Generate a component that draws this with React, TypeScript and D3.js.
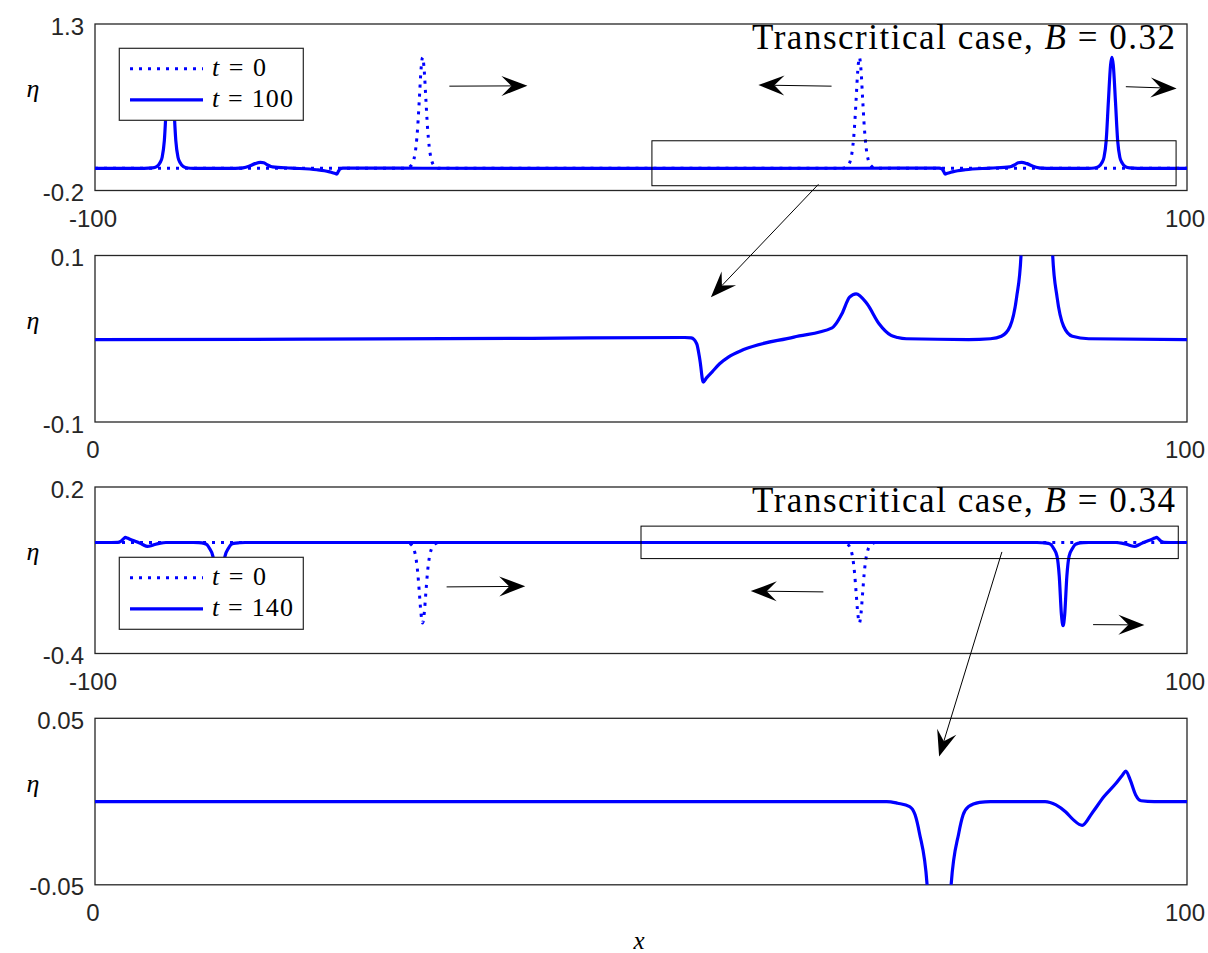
import * as d3 from "d3";

// ---- data: [x, eta] ----

// B = 0.32, initial state (two solitary waves at x = -40, 40)
const b032T0: [number, number][] = [
  [-100, 0], [-43, 0], [-42.2, 0.02], [-41.6, 0.08], [-41.2, 0.2], [-40.9, 0.37], [-40.6, 0.62], [-40.3, 0.88],
  [-40, 1.0], [-39.7, 0.88], [-39.4, 0.62], [-39.1, 0.37], [-38.8, 0.2], [-38.4, 0.08], [-37.8, 0.02], [-37, 0],
  [37, 0], [37.8, 0.02], [38.4, 0.08], [38.8, 0.2], [39.1, 0.37], [39.4, 0.62], [39.7, 0.88],
  [40, 1.0], [40.3, 0.88], [40.6, 0.62], [40.9, 0.37], [41.2, 0.2], [41.6, 0.08], [42.2, 0.02], [43, 0], [100, 0],
];

// B = 0.32, t = 100
const b032T100: [number, number][] = [
  [-100, -0.001], [-91, 0], [-89.5, 0.003], [-88.7, 0.015], [-88.1, 0.05], [-87.7, 0.1], [-87.3, 0.25],
  [-86.9, 0.6], [-86.5, 0.93], [-86.25, 1.0], [-86.0, 0.93], [-85.6, 0.6], [-85.2, 0.25], [-84.8, 0.1],
  [-84.4, 0.05], [-83.8, 0.015], [-83, 0.003], [-82, 0], [-80, -0.001], [-74.3, 0], [-73.5, 0.0015],
  [-72.9, 0.004], [-71.8, 0.018], [-70.7, 0.042], [-69.7, 0.054], [-69.1, 0.05], [-68.4, 0.03],
  [-67.8, 0.017], [-67.5, 0.013], [-64, 0.002], [-59.4, -0.013], [-58.0, -0.022], [-57.2, -0.03],
  [-56.5, -0.04], [-56.0, -0.047], [-55.7, -0.052], [-55.4, -0.026], [-55.1, -0.006], [-54.6, 0.001],
  [-54, 0.0015], [-40, 0.0005], [-20, -0.0005], [0, -0.001],
  [20, -0.0005], [40, 0.0005], [54, 0.0015], [54.6, 0.001], [55.1, -0.006], [55.4, -0.026], [55.7, -0.052],
  [56.0, -0.047], [56.5, -0.04], [57.2, -0.03], [58.0, -0.022], [59.4, -0.013], [64, 0.002], [67.5, 0.013],
  [67.8, 0.017], [68.4, 0.03], [69.1, 0.05], [69.7, 0.054], [70.7, 0.042], [71.8, 0.018], [72.9, 0.004],
  [73.5, 0.0015], [74.3, 0], [80, -0.001], [82, 0], [83, 0.003], [83.8, 0.015], [84.4, 0.05], [84.8, 0.1],
  [85.2, 0.25], [85.6, 0.6], [86.0, 0.93], [86.25, 1.0], [86.5, 0.93], [86.9, 0.6], [87.3, 0.25],
  [87.7, 0.1], [88.1, 0.05], [88.7, 0.015], [89.5, 0.003], [91, 0], [100, -0.001],
];

// B = 0.34, initial state (two depressions at x = -40, 40)
const b034T0: [number, number][] = [
  [-100, 0], [-43, 0], [-42.2, -0.006], [-41.6, -0.024], [-41.2, -0.058], [-40.9, -0.107], [-40.6, -0.18],
  [-40.3, -0.255], [-40, -0.29], [-39.7, -0.255], [-39.4, -0.18], [-39.1, -0.107], [-38.8, -0.058],
  [-38.4, -0.024], [-37.8, -0.006], [-37, 0],
  [37, 0], [37.8, -0.006], [38.4, -0.024], [38.8, -0.058], [39.1, -0.107], [39.4, -0.18], [39.7, -0.255],
  [40, -0.29], [40.3, -0.255], [40.6, -0.18], [40.9, -0.107], [41.2, -0.058], [41.6, -0.024],
  [42.2, -0.006], [43, 0], [100, 0],
];

// B = 0.34, t = 140
const b034T140: [number, number][] = [
  [-100, 0], [-97, 0], [-95.8, 0.0005], [-95.3, 0.004], [-94.8, 0.013], [-94.4, 0.0183], [-94.1, 0.016],
  [-93.5, 0.011], [-92.4, 0.003], [-91.3, -0.007], [-90.4, -0.0143], [-89.6, -0.011], [-88.9, -0.0063],
  [-88.0, -0.002], [-87.0, 0], [-82, 0], [-81, -0.0005], [-80, -0.003], [-79.5, -0.008], [-79.1, -0.019],
  [-78.4, -0.05], [-78.0, -0.12], [-77.6, -0.26], [-77.3, -0.3], [-77.0, -0.26], [-76.6, -0.12],
  [-76.2, -0.05], [-75.5, -0.019], [-75.1, -0.008], [-74.6, -0.003], [-73.5, -0.001], [-72.5, 0], [0, 0],
  [72.5, 0], [73.5, -0.001], [74.6, -0.003], [75.1, -0.008], [75.5, -0.019], [76.2, -0.05], [76.6, -0.12],
  [77.0, -0.26], [77.3, -0.3], [77.6, -0.26], [78.0, -0.12], [78.4, -0.05], [79.1, -0.019], [79.5, -0.008],
  [80, -0.003], [81, -0.0005], [82, 0], [87.0, 0], [88.0, -0.002], [88.9, -0.0063], [89.6, -0.011],
  [90.4, -0.0143], [91.3, -0.007], [92.4, 0.003], [93.5, 0.011], [94.1, 0.016], [94.4, 0.0183],
  [94.8, 0.013], [95.3, 0.004], [95.8, 0.0005], [97, 0], [100, 0],
];

const xDomains: [number, number][] = [[-100, 100], [0, 100], [-100, 100], [0, 100]];
const yDomains: [number, number][] = [[-0.2, 1.3], [-0.1, 0.1], [-0.4, 0.2], [-0.05, 0.05]];
const legendTimes = ["100", "140"];
const caseB = ["0.32", "0.34"];

// annotation arrows, data coords of the panel they sit in: [x1, y1, x2, y2]
const arrowsTop: [number, number, number, number][] = [
  [-35.1, 0.74, -20.8, 0.743], [34.9, 0.74, 21.5, 0.75], [88.8, 0.735, 98.1, 0.72],
];
const arrowsBottom: [number, number, number, number][] = [
  [-35.6, -0.16, -21.2, -0.158], [33.4, -0.178, 20.1, -0.175], [82.8, -0.296, 92.2, -0.297],
];
// zoom rectangles [x0, x1, y0, y1]
const zoomBoxes: [number, number, number, number][] = [[2, 98, -0.157, 0.248], [0, 98.4, -0.058, 0.059]];
// connecting arrows: tail in upper panel, tip in zoom panel
const zoomArrows = [
  { tail: [32.5, -0.144], tip: [56.4, 0.05] },
  { tail: [66.1, -0.034], tip: [77.3, 0.027] },
];

const W = 1208;
const H = 953;
const LEFT = 95;
const RIGHT = 1187;
const PH = 166.5;
const TOPS = [24, 255.5, 487, 718.3];
const BLUE = "#0000ff";
const AX = "#262626";
const SERIF = "'Liberation Serif', 'DejaVu Serif', serif";
const SANS = "'Liberation Sans', Arial, sans-serif";

function Arrow({ x1, y1, x2, y2 }: { x1: number; y1: number; x2: number; y2: number }) {
  const dx = x2 - x1;
  const dy = y2 - y1;
  const len = Math.hypot(dx, dy);
  const ux = dx / len, uy = dy / len;
  const nx = -uy, ny = ux;
  const L = 26, Wd = 10, N = 10;
  const bx = x2 - L * ux, by = y2 - L * uy;
  const mx = x2 - (L - N) * ux, my = y2 - (L - N) * uy;
  const pts = [
    [x2, y2], [bx + Wd * nx, by + Wd * ny], [mx, my], [bx - Wd * nx, by - Wd * ny],
  ].map((p) => p.join(",")).join(" ");
  return (
    <g>
      <line x1={x1} y1={y1} x2={mx} y2={my} stroke="#000" strokeWidth={1} />
      <polygon points={pts} fill="#000" />
    </g>
  );
}

export default function App() {
  const xs = xDomains.map((d) => d3.scaleLinear().domain(d).range([LEFT, RIGHT]));
  const ys = yDomains.map((d, i) => d3.scaleLinear().domain(d).range([TOPS[i] + PH, TOPS[i]]));
  const series = [
    [b032T0, b032T100], [b032T100], [b034T0, b034T140], [b034T140],
  ];
  const dotted = [[true, false], [false], [true, false], [false]];

  return (
    <svg width={W} height={H} style={{ position: "absolute", left: 0, top: 0, background: "#fff" }}>
      <defs>
        {TOPS.map((t, i) => (
          <clipPath id={`clip${i}`} key={i}>
            <rect x={LEFT} y={t} width={RIGHT - LEFT} height={PH} />
          </clipPath>
        ))}
      </defs>
      {TOPS.map((t, i) => {
        const x = xs[i], y = ys[i];
        const line = d3.line<[number, number]>().x((d) => x(d[0])).y((d) => y(d[1])).curve(d3.curveMonotoneX);
        return (
          <g key={i}>
            <rect x={LEFT} y={t} width={RIGHT - LEFT} height={PH} fill="#fff" stroke={AX} strokeWidth={1.3} />
            <g clipPath={`url(#clip${i})`}>
              {series[i].map((s, j) => (
                <path key={j} d={line(s) || ""} fill="none" stroke={BLUE}
                  strokeWidth={dotted[i][j] ? 3 : 3.2}
                  strokeDasharray={dotted[i][j] ? "3 6" : undefined}
                  strokeLinejoin="round" />
              ))}
            </g>
            {y.domain().map((v) => (
              <text key={"y" + v} x={LEFT - 11} y={y(v) + 10.5} textAnchor="end" fontFamily={SANS} fontSize={24} fill={AX}>
                {String(v)}
              </text>
            ))}
            {x.domain().map((v) => (
              <text key={"x" + v} x={x(v) - 2} y={t + PH + 36} textAnchor="middle" fontFamily={SANS} fontSize={24} fill={AX}>
                {String(v)}
              </text>
            ))}
            <text x={33} y={t + PH / 2 - 10} textAnchor="middle" fontFamily={SERIF} fontStyle="italic" fontSize={26} fill="#000">
              η
            </text>
          </g>
        );
      })}

      {/* zoom rectangles, direction arrows, titles and legends on the full-domain panels */}
      {[0, 2].map((pi, k) => {
        const x = xs[pi], y = ys[pi];
        const [bx0, bx1, by0, by1] = zoomBoxes[k];
        const arrows = k === 0 ? arrowsTop : arrowsBottom;
        const legTop = k === 0 ? 48.3 : 557.3;
        const t = TOPS[pi];
        return (
          <g key={"ann" + pi}>
            <rect x={x(bx0)} y={y(by1)} width={x(bx1) - x(bx0)} height={y(by0) - y(by1)} fill="none" stroke="#000" strokeWidth={1} />
            {arrows.map((a, j) => (
              <Arrow key={j} x1={x(a[0])} y1={y(a[1])} x2={x(a[2])} y2={y(a[3])} />
            ))}
            <text x={752} y={t + 25.3} fontFamily={SERIF} fontSize={35} fill="#000" textLength={423} lengthAdjust="spacing">
              Transcritical case, <tspan fontStyle="italic">B</tspan> = {caseB[k]}
            </text>
            <rect x={119.3} y={legTop} width={184} height={72} fill="#fff" stroke={AX} strokeWidth={1.2} />
            <line x1={130} x2={203} y1={legTop + 20.5} y2={legTop + 20.5} stroke={BLUE} strokeWidth={3} strokeDasharray="3 6" />
            <line x1={130} x2={203} y1={legTop + 51.5} y2={legTop + 51.5} stroke={BLUE} strokeWidth={3.2} />
            <text x={212} y={legTop + 27.5} fontFamily={SERIF} fontSize={26} fill="#000" textLength={54} lengthAdjust="spacing">
              <tspan fontStyle="italic">t</tspan> = 0
            </text>
            <text x={212} y={legTop + 58.5} fontFamily={SERIF} fontSize={26} fill="#000" textLength={81} lengthAdjust="spacing">
              <tspan fontStyle="italic">t</tspan> = {legendTimes[k]}
            </text>
          </g>
        );
      })}

      {zoomArrows.map((a, k) => {
        const up = k === 0 ? 0 : 2;
        const dn = up + 1;
        return (
          <Arrow key={"za" + k} x1={xs[up](a.tail[0])} y1={ys[up](a.tail[1])} x2={xs[dn](a.tip[0])} y2={ys[dn](a.tip[1])} />
        );
      })}

      <text x={639} y={949} textAnchor="middle" fontFamily={SERIF} fontStyle="italic" fontSize={25} fill="#000">
        x
      </text>
    </svg>
  );
}
